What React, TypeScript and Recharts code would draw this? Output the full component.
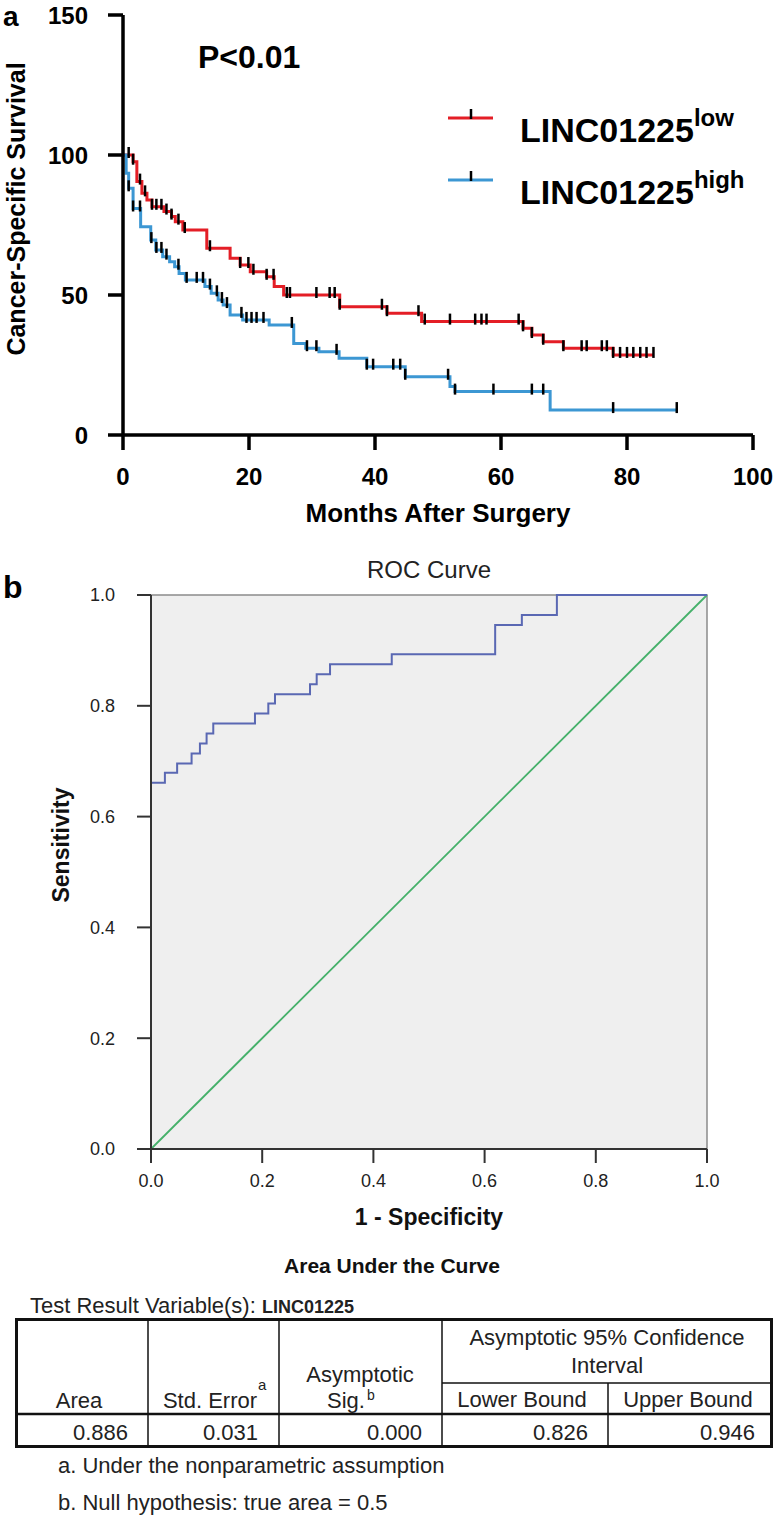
import React from "react";
import { ComposedChart, Line, XAxis, YAxis, Legend, ReferenceArea } from "recharts";

const FONT = "'Liberation Sans', Arial, sans-serif";

// ---- panel a: cancer-specific survival (months after surgery) ----
const lowStepMonths = [0, 1.6, 2.2, 3.0, 3.8, 4.6, 6.5, 7.7, 8.3, 9.5, 13.3, 17.0, 18.6, 20.2, 22.8, 24.0, 25.5, 34.4, 41.9, 47.4, 63.5, 64.9, 66.7, 69.9, 77.8];
const lowStepSurvival = [100, 97.6, 90.5, 86.3, 83.9, 81.5, 79.8, 78.0, 76.2, 73.2, 66.7, 63.1, 60.7, 58.3, 56.5, 53.0, 50.0, 45.8, 43.5, 40.5, 38.1, 35.7, 33.3, 31.0, 28.6];
const lowCensorMonths = [0.9, 1.6, 2.7, 3.5, 4.6, 5.3, 6.1, 6.9, 7.7, 8.8, 9.8, 13.8, 18.6, 19.9, 20.7, 22.8, 23.9, 26.0, 26.5, 30.7, 32.8, 33.6, 34.4, 41.1, 41.9, 46.9, 47.9, 51.9, 55.9, 56.9, 57.7, 62.8, 63.5, 64.9, 66.7, 69.9, 72.8, 73.6, 76.0, 76.8, 77.8, 78.9, 80.0, 81.0, 82.1, 83.1, 84.2];

const highStepMonths = [0, 0.5, 0.9, 1.6, 2.8, 4.4, 5.2, 6.3, 7.4, 8.2, 8.9, 9.9, 13.0, 14.0, 15.1, 15.9, 17.0, 19.0, 23.2, 27.1, 29.0, 31.1, 34.3, 38.7, 44.8, 51.9, 52.7, 67.8];
const highStepSurvival = [100, 93.5, 88.1, 80.9, 74.4, 69.6, 66.1, 63.7, 61.9, 60.1, 57.7, 55.4, 53.0, 50.6, 48.2, 46.4, 42.9, 41.1, 39.3, 32.7, 31.0, 29.7, 27.4, 24.4, 20.8, 17.3, 15.5, 8.9];
const highCensorMonths = [0.9, 1.6, 2.7, 4.5, 5.3, 6.1, 6.9, 8.8, 10.1, 11.7, 12.7, 13.8, 14.9, 15.7, 16.5, 18.8, 19.6, 20.4, 21.2, 22.3, 26.8, 29.2, 30.7, 33.9, 38.7, 39.7, 42.9, 44.0, 44.8, 51.6, 52.7, 58.8, 64.9, 66.7, 77.8, 87.9];

const seriesNames = ["low", "high"];
const monthTicks = [0, 20, 40, 60, 80, 100];
const survivalTicks = [0, 50, 100, 150];

// ---- panel b: ROC curve ----
const rocFpr = [0, 0, 0.025, 0.047, 0.073, 0.088, 0.1, 0.112, 0.187, 0.211, 0.223, 0.286, 0.298, 0.322, 0.433, 0.619, 0.667, 0.73, 1.0];
const rocTpr = [0, 0.661, 0.679, 0.696, 0.714, 0.732, 0.75, 0.768, 0.786, 0.804, 0.821, 0.839, 0.857, 0.875, 0.893, 0.946, 0.964, 1.0, 1.0];
const refX = [0, 1];
const refY = [0, 1];
const rocTicks = [0, 0.2, 0.4, 0.6, 0.8, 1.0];

// ---- AUC table ----
const aucValues = ["0.886", "0.031", "0.000", "0.826", "0.946"];

function buildKm(stepMonths: number[], stepSurv: number[], censorMonths: number[]) {
  const pts = stepMonths.map((m, i) => ({ x: m, y: stepSurv[i], censored: false }));
  censorMonths.forEach((m) => {
    let y = stepSurv[0];
    stepMonths.forEach((s, i) => {
      if (s <= m) y = stepSurv[i];
    });
    pts.push({ x: m, y, censored: true });
  });
  return pts.sort((a, b) => a.x - b.x || (a.censored ? 1 : -1));
}

const lowData = buildKm(lowStepMonths, lowStepSurvival, lowCensorMonths);
const highData = buildKm(highStepMonths, highStepSurvival, highCensorMonths);
const rocData = rocFpr.map((x, i) => ({ x, y: rocTpr[i] }));
const refData = refX.map((x, i) => ({ x, y: refY[i] }));

const CensorTick = (props: any) => {
  const { cx, cy, payload, index } = props;
  if (!payload || !payload.censored) return <g key={`n-${index}`} />;
  return <line key={`c-${index}`} x1={cx} x2={cx} y1={cy - 8} y2={cy + 3} stroke="#000" strokeWidth={2.5} />;
};

const KmLegend = (props: any) => {
  const items = [...(props.payload || [])].sort(
    (a: any, b: any) => seriesNames.indexOf(a.value) - seriesNames.indexOf(b.value)
  );
  return (
    <svg width={330} height={130} style={{ overflow: "visible" }}>
      {items.map((it: any, i: number) => {
        const ly = 23 + i * 62;
        return (
          <g key={it.value}>
            <line x1={8} x2={53} y1={ly} y2={ly} stroke={it.color} strokeWidth={3} />
            <line x1={31} x2={31} y1={ly - 9} y2={ly + 1} stroke="#000" strokeWidth={2.5} />
            <text x={80} y={ly + 24} fontFamily={FONT} fontWeight="bold" fontSize={34} fill="#000">
              LINC01225
              <tspan fontSize={24} dy={-16}>{it.value}</tspan>
            </text>
          </g>
        );
      })}
    </svg>
  );
};

const axisA = { stroke: "#000", strokeWidth: 3.5 };
const tickA = { fontSize: 24, fontWeight: "bold", fill: "#000", fontFamily: FONT };
const axisB = { stroke: "#333", strokeWidth: 2 };
const tickB = { fontSize: 18, fill: "#222", fontFamily: FONT };

export default function App() {
  return (
    <div style={{ position: "absolute", left: 0, top: 0, width: 779, height: 1523, background: "#fff", fontFamily: FONT }}>
      <div style={{ position: "absolute", left: 0, top: 0 }}>
        <ComposedChart width={779} height={540} margin={{ top: 15, right: 26, bottom: 10, left: 0 }}>
          <XAxis
            type="number"
            dataKey="x"
            domain={[0, 100]}
            ticks={monthTicks}
            height={95}
            axisLine={axisA}
            tickLine={axisA}
            tickSize={15}
            tickMargin={18}
            tick={tickA}
            label={(p: any) => (
              <text x={p.viewBox.x + p.viewBox.width / 2} y={p.viewBox.y + 87} textAnchor="middle" fontFamily={FONT} fontWeight="bold" fontSize={26} fill="#000">
                Months After Surgery
              </text>
            )}
          />
          <YAxis
            type="number"
            domain={[0, 150]}
            ticks={survivalTicks}
            width={123}
            axisLine={axisA}
            tickLine={axisA}
            tickSize={15}
            tickMargin={20}
            tick={tickA}
            label={() => (
              <text x={25} y={209} transform="rotate(-90 25 209)" textAnchor="middle" fontFamily={FONT} fontWeight="bold" fontSize={25} fill="#000">
                Cancer-Specific Survival
              </text>
            )}
          />
          <Line data={lowData} dataKey="y" name="low" type="stepAfter" stroke="#e41e26" strokeWidth={3} dot={CensorTick} activeDot={false} isAnimationActive={false} />
          <Line data={highData} dataKey="y" name="high" type="stepAfter" stroke="#3c97d3" strokeWidth={3} dot={CensorTick} activeDot={false} isAnimationActive={false} />
          <Legend layout="vertical" align="center" verticalAlign="middle" content={KmLegend} wrapperStyle={{ left: 440, top: 95, width: 330, height: 130 }} />
        </ComposedChart>
      </div>

      <div style={{ position: "absolute", left: 0, top: 560 }}>
        <ComposedChart width={779} height={680} margin={{ top: 35, right: 72, bottom: 0, left: 0 }}>
          <ReferenceArea x1={0} x2={1} y1={0} y2={1} fill="#efefef" fillOpacity={1} stroke="#8c8c8c" strokeWidth={1.5} />
          <XAxis
            type="number"
            dataKey="x"
            domain={[0, 1]}
            ticks={rocTicks}
            tickFormatter={(v: number) => v.toFixed(1)}
            height={91}
            axisLine={axisB}
            tickLine={axisB}
            tickSize={14}
            tickMargin={11}
            tick={tickB}
            label={(p: any) => (
              <text x={p.viewBox.x + p.viewBox.width / 2} y={p.viewBox.y + 76} textAnchor="middle" fontFamily={FONT} fontWeight="bold" fontSize={23} fill="#111">
                1 - Specificity
              </text>
            )}
          />
          <YAxis
            type="number"
            domain={[0, 1]}
            ticks={rocTicks}
            tickFormatter={(v: number) => v.toFixed(1)}
            width={151}
            axisLine={axisB}
            tickLine={axisB}
            tickSize={14}
            tickMargin={22}
            tick={tickB}
            label={() => (
              <text x={69} y={285} transform="rotate(-90 69 285)" textAnchor="middle" fontFamily={FONT} fontWeight="bold" fontSize={23} fill="#111">
                Sensitivity
              </text>
            )}
          />
          <Line data={refData} dataKey="y" type="linear" stroke="#45b06a" strokeWidth={1.8} dot={false} activeDot={false} isAnimationActive={false} />
          <Line data={rocData} dataKey="y" type="stepAfter" stroke="#5a68b3" strokeWidth={2} dot={false} activeDot={false} isAnimationActive={false} />
        </ComposedChart>
      </div>

      {/* panel letters, titles, AUC table */}
      <svg width={779} height={1523} style={{ position: "absolute", left: 0, top: 0, pointerEvents: "none" }} fontFamily={FONT}>
        <text x={3} y={26} fontSize={28} fontWeight="bold">a</text>
        <text x={198} y={68} fontSize={32} fontWeight="bold">P&lt;0.01</text>
        <text x={3} y={598} fontSize={32} fontWeight="bold">b</text>
        <text x={429} y={578} fontSize={24} textAnchor="middle" fill="#222">ROC Curve</text>

        <text x={392} y={1273} fontSize={21} fontWeight="bold" textAnchor="middle" fill="#111">Area Under the Curve</text>
        <text x={30} y={1313} fontSize={22} fill="#222">
          Test Result Variable(s):{" "}
          <tspan fontSize={18} fontWeight="bold">LINC01225</tspan>
        </text>

        <rect x={16.5} y={1319.5} width={755} height={127} fill="none" stroke="#111" strokeWidth={3} />
        <line x1={148} x2={148} y1={1318} y2={1448} stroke="#111" strokeWidth={1.5} />
        <line x1={279} x2={279} y1={1318} y2={1448} stroke="#111" strokeWidth={1.5} />
        <line x1={442} x2={442} y1={1318} y2={1448} stroke="#111" strokeWidth={1.5} />
        <line x1={608} x2={608} y1={1383} y2={1448} stroke="#111" strokeWidth={1.5} />
        <line x1={442} x2={773} y1={1383} y2={1383} stroke="#111" strokeWidth={1.5} />
        <line x1={15} x2={773} y1={1414} y2={1414} stroke="#111" strokeWidth={2.5} />

        <g fontSize={22} fill="#222">
          <text x={79} y={1408} textAnchor="middle">Area</text>
          <text x={210} y={1408} textAnchor="middle">Std. Error</text>
          <text x={258} y={1390} fontSize={15}>a</text>
          <text x={360} y={1382} textAnchor="middle">Asymptotic</text>
          <text x={346} y={1408} textAnchor="middle">Sig.</text>
          <text x={367} y={1400} fontSize={14}>b</text>
          <text x={607} y={1345} textAnchor="middle">Asymptotic 95% Confidence</text>
          <text x={607} y={1373} textAnchor="middle">Interval</text>
          <text x={522} y={1407} textAnchor="middle">Lower Bound</text>
          <text x={688} y={1407} textAnchor="middle">Upper Bound</text>
          {aucValues.map((v, i) => (
            <text key={v + i} x={[128, 258, 422, 588, 755][i]} y={1440} textAnchor="end">{v}</text>
          ))}
          <text x={58} y={1473}>a. Under the nonparametric assumption</text>
          <text x={58} y={1510}>b. Null hypothesis: true area = 0.5</text>
        </g>
      </svg>
    </div>
  );
}
